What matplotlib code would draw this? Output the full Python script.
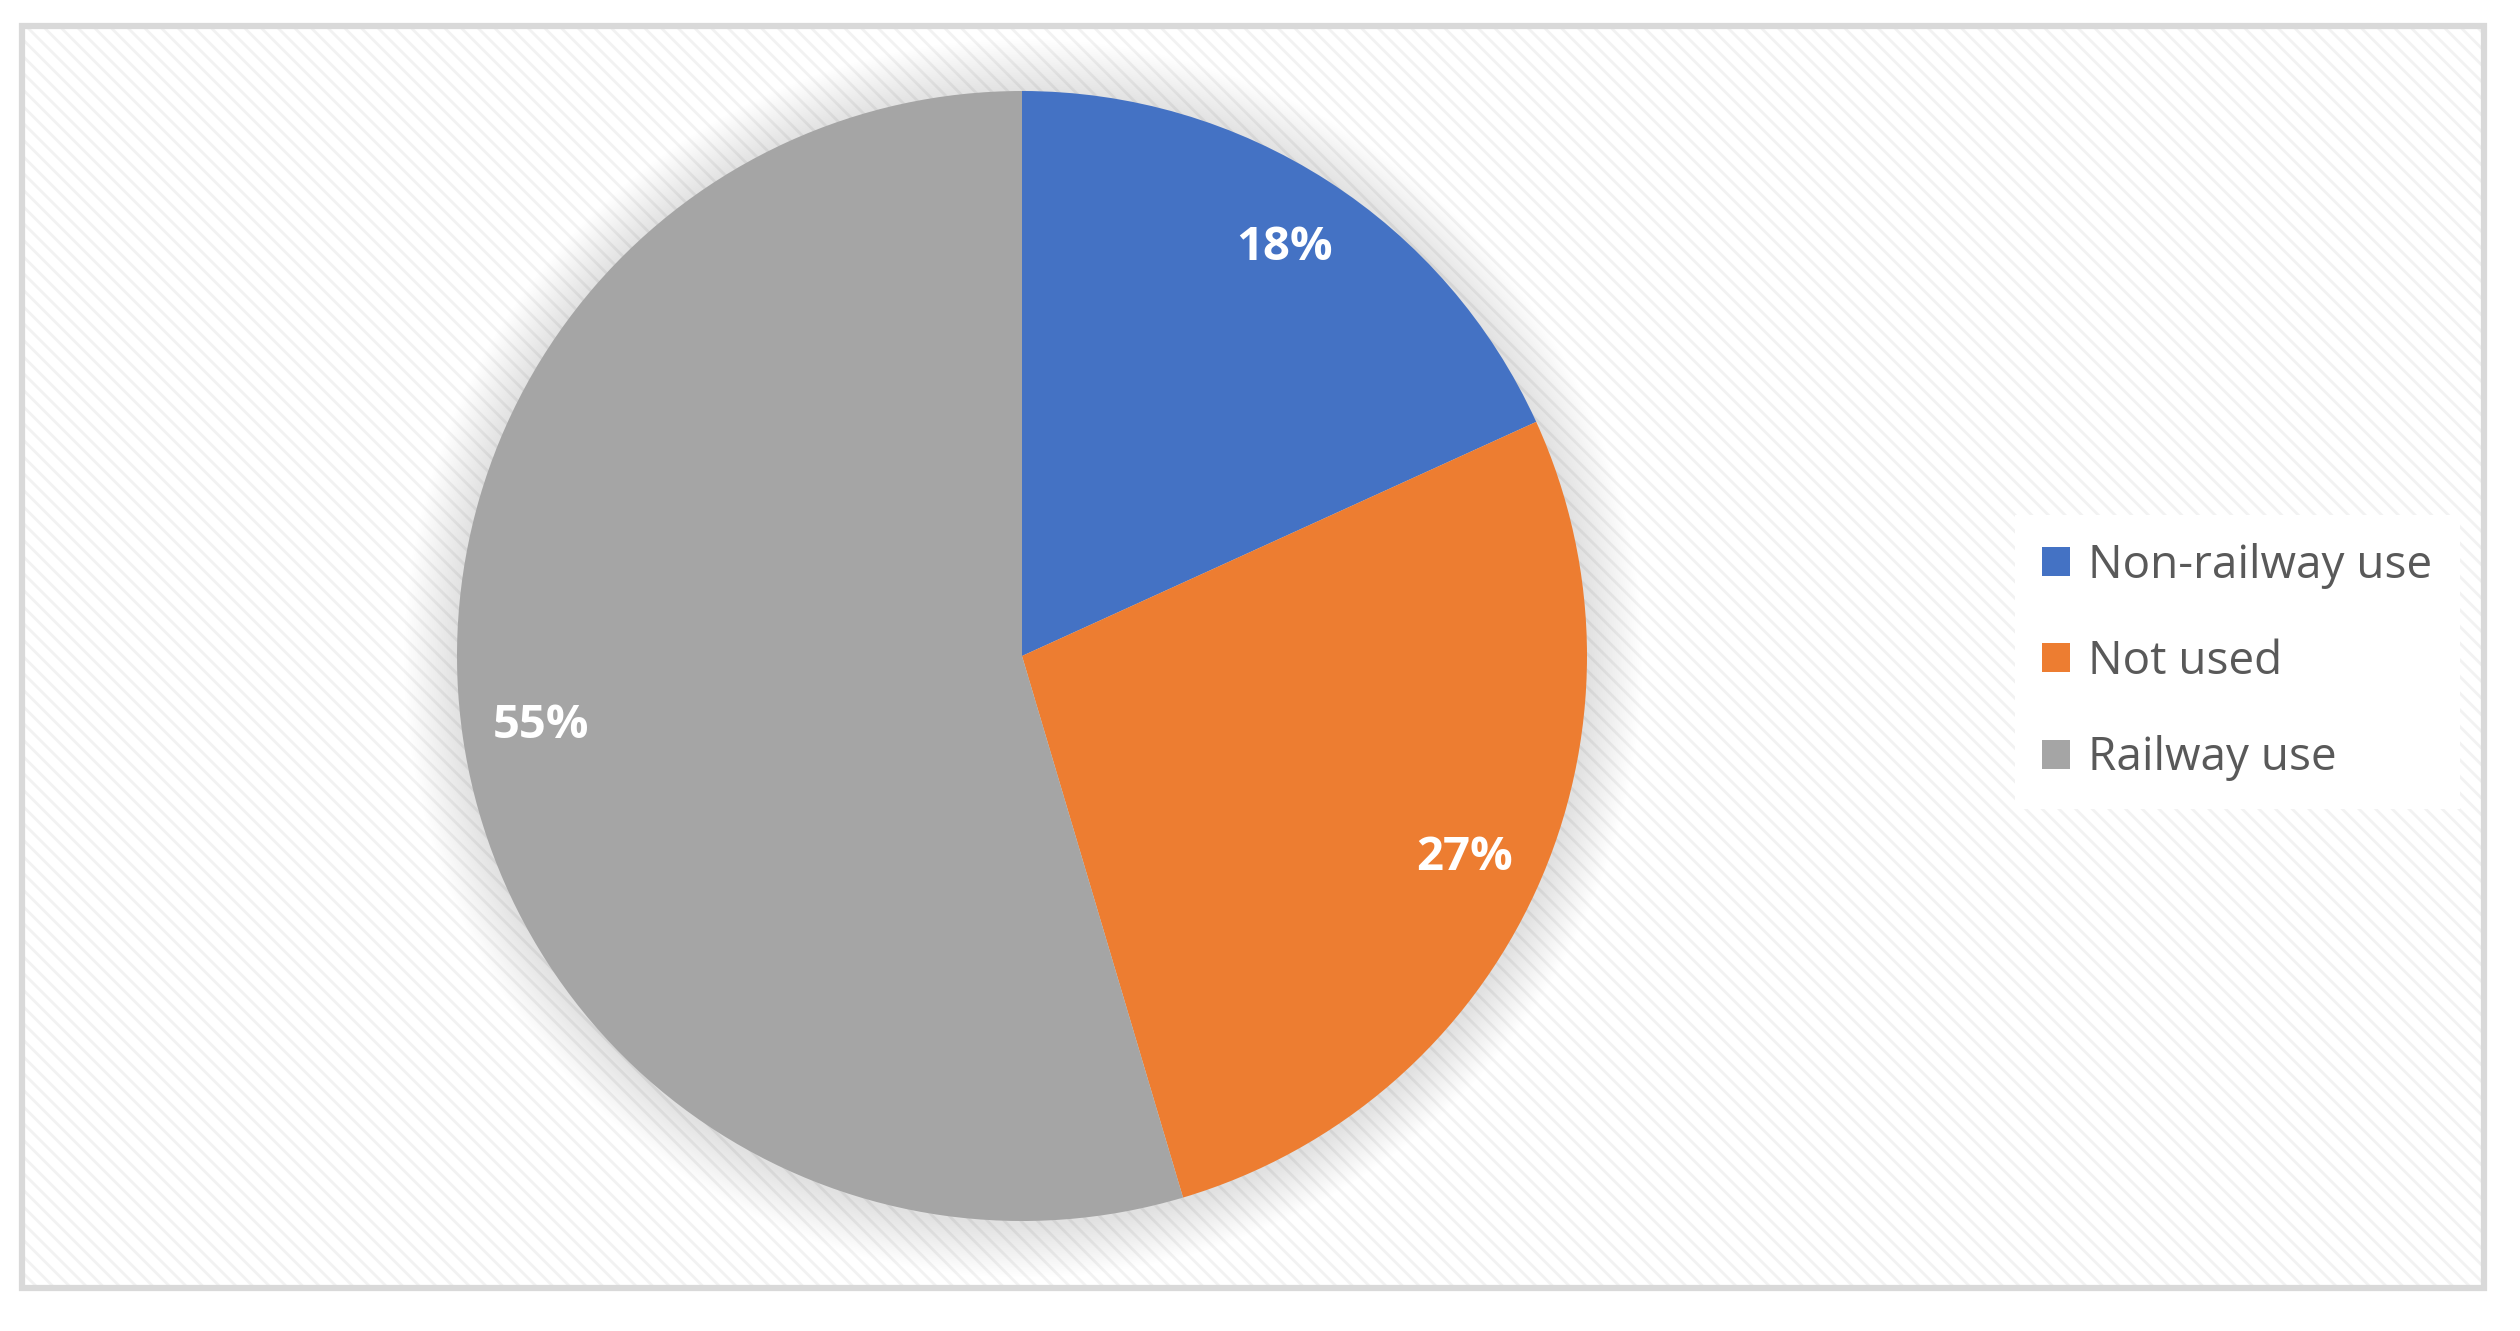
import matplotlib.pyplot as plt
from matplotlib.patches import Rectangle, Circle, Patch

plt.rcParams['font.family'] = ['Open Sans', 'DejaVu Sans']
plt.rcParams['hatch.linewidth'] = 2.0

labels = ['Non-railway use', 'Not used', 'Railway use']
values = [18.2, 27.2, 54.6]
colors = ['#4472c4', '#ed7d31', '#a5a5a5']

W, H = 2520, 1331
fig = plt.figure(figsize=(W / 100, H / 100), dpi=100)
fig.patch.set_facecolor('white')

# outer frame with faint diagonal texture
bg = Rectangle((22 / W, 1 - 1288 / H), (2484 - 22) / W, (1288 - 26) / H,
               transform=fig.transFigure, facecolor='white', edgecolor='#f2f2f2',
               linewidth=0, hatch='\\\\', zorder=-2)
fig.patches.append(bg)
border = Rectangle((22 / W, 1 - 1288 / H), (2484 - 22) / W, (1288 - 26) / H,
                   transform=fig.transFigure, facecolor='none', edgecolor='#d9d9d9',
                   linewidth=4.5, zorder=-1)
fig.patches.append(border)

# pie axes
cx, cy, r = 1022, 656, 565
ax = fig.add_axes([(cx - r) / W, (H - cy - r) / H, 2 * r / W, 2 * r / H])
ax.set_facecolor('none')

# soft shadow
for i in range(30):
    rad = 1.0 + 0.0032 * (i + 1)
    ax.add_patch(Circle((0.002, -0.004), rad, facecolor='#000000', edgecolor='none',
                        alpha=0.0048, zorder=0, clip_on=False))

wedges, texts, autotexts = ax.pie(values, colors=colors, startangle=90, counterclock=False,
                                  autopct='%1.0f%%', pctdistance=0.86,
                                  wedgeprops=dict(edgecolor='none', zorder=2),
                                  textprops=dict(color='white', fontsize=34, fontweight='bold'))
for t in autotexts:
    t.set_zorder(3)
ax.set_xlim(-1, 1)
ax.set_ylim(-1, 1)
ax.axis('off')

handles = [Patch(facecolor=c, edgecolor='none') for c in colors]
leg = fig.legend(handles, labels, loc='center left',
                 bbox_to_anchor=(1992 / W, 1 - 662 / H),
                 fontsize=33, handlelength=0.6, handleheight=0.6,
                 handletextpad=0.4, labelspacing=1.1, borderpad=0.6,
                 frameon=True, fancybox=False)
leg.get_frame().set_facecolor('white')
leg.get_frame().set_edgecolor('none')
leg.get_frame().set_alpha(1)
for t in leg.get_texts():
    t.set_color('#595959')

fig.savefig('out.png', dpi=100)
